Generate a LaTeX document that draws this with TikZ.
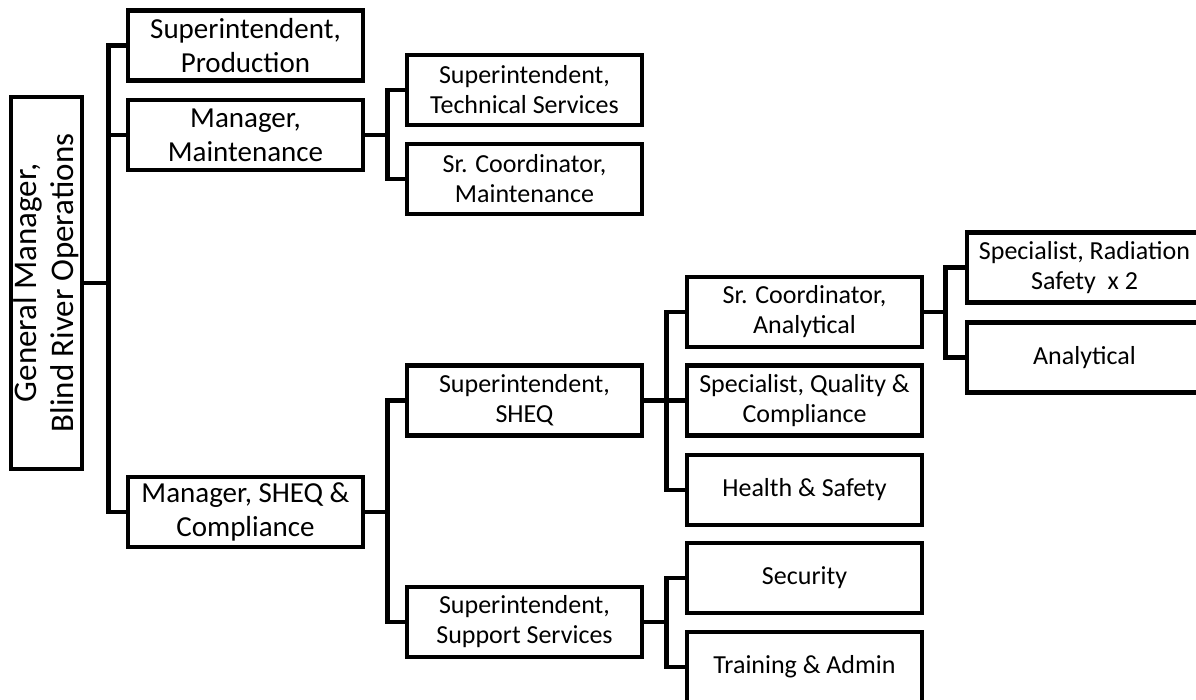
\documentclass[tikz,border=0pt]{standalone}
\usepackage{fontspec}
\setmainfont{Carlito}
\begin{document}
\begin{tikzpicture}[x=1pt,y=-1pt,
  post/.style={draw,line width=4.5pt,minimum width=235pt,minimum height=70pt,inner sep=2pt,align=center,font=\fontsize{26}{30}\selectfont},
  head/.style={post,font=\fontsize{29}{34}\selectfont},
  link/.style={line width=4.5pt}]
\useasboundingbox (0,0) rectangle (1196,700);

\node[post,minimum width=372pt,minimum height=71pt,rotate=90,font=\fontsize{33}{37}\selectfont] (gm) at (46.5,283) {General Manager,\\Blind River Operations};

\node[head] (prod) at (245.5,45.5) {Superintendent,\\Production};
\node[head] (maint) at (245.5,135) {Manager,\\Maintenance};
\node[head] (sheqmgr) at (245.5,512) {Manager, SHEQ \&\\Compliance};

\node[post] (tech) at (524.5,90) {Superintendent,\\Technical Services};
\node[post] (srmaint) at (524.5,179) {Sr. Coordinator,\\Maintenance};
\node[post] (sheq) at (524.5,400.5) {Superintendent,\\SHEQ};
\node[post] (support) at (524.5,622) {Superintendent,\\Support Services};

\node[post] (sranal) at (804.5,312) {Sr. Coordinator,\\Analytical};
\node[post] (quality) at (804.5,400.5) {Specialist, Quality \&\\Compliance};
\node[post] (health) at (804.5,490) {Health \& Safety};
\node[post] (security) at (804.5,578) {Security};
\node[post] (training) at (804.5,667) {Training \& Admin};

\node[post] (radiation) at (1084.5,267.5) {Specialist, Radiation\\Safety\ \ x 2};
\node[post] (analytical) at (1084.5,357.5) {Analytical};

\foreach \c in {prod,maint,sheqmgr}
  \draw[link] (gm.south) -- ++(24,0) |- (\c.west);
\foreach \c in {tech,srmaint}
  \draw[link] (maint.east) -- ++(22,0) |- (\c.west);
\foreach \c in {sheq,support}
  \draw[link] (sheqmgr.east) -- ++(22,0) |- (\c.west);
\foreach \c in {sranal,quality,health}
  \draw[link] (sheq.east) -- ++(22,0) |- (\c.west);
\foreach \c in {security,training}
  \draw[link] (support.east) -- ++(22,0) |- (\c.west);
\foreach \c in {radiation,analytical}
  \draw[link] (sranal.east) -- ++(21,0) |- (\c.west);
\end{tikzpicture}
\end{document}
